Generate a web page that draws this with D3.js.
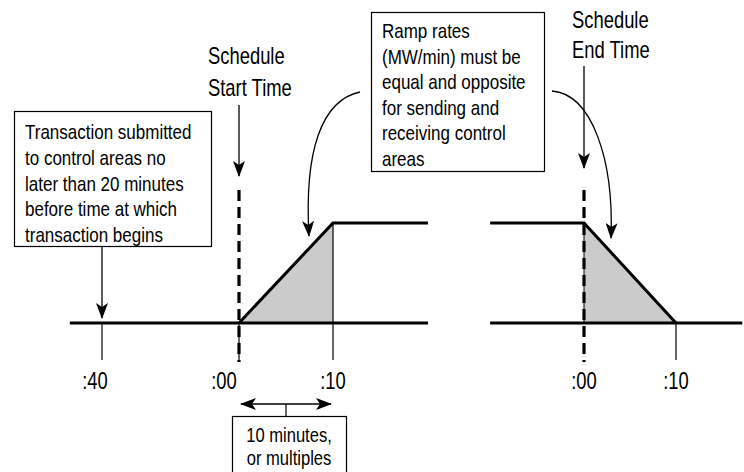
<!DOCTYPE html>
<html>
<head>
<meta charset="utf-8">
<script src="https://cdn.jsdelivr.net/npm/d3@7"></script>
<style>
  html, body { margin: 0; padding: 0; background: #fff; }
  svg { display: block; }
  text { font-family: "Liberation Sans", Arial, sans-serif; fill: #000; }
</style>
</head>
<body>
<svg id="chart" width="744" height="472"></svg>
<script>
// ---- data ----
const leftTickMinutes = [-20, 0, 10];
const leftTickLabels = [":40", ":00", ":10"];
const rightTickMinutes = [0, 10];
const rightTickLabels = [":00", ":10"];
// schedule profiles (minutes relative to schedule start/end, level 0 = low, 1 = high)
const startProfileMinutes = [0, 10, 20.1];
const startProfileLevels = [0, 1, 1];
const startBaseMinutes = [-24.7, 20.1];
const endProfileMinutes = [-10.2, 0, 10];
const endProfileLevels = [1, 1, 0];
const endBaseMinutes = [-10.2, 17.2];
const rampMinutes = 10;
const boxSubmitLines = ["Transaction submitted", "to control areas no", "later than 20 minutes", "before time at which", "transaction begins"];
const boxRampLines = ["Ramp rates", "(MW/min) must be", "equal and opposite", "for sending and", "receiving control", "areas"];
const boxIntervalLines = ["10 minutes,", "or multiples"];
const startLabelLines = ["Schedule", "Start Time"];
const endLabelLines = ["Schedule", "End Time"];

// ---- scales ----
const svg = d3.select("#chart");
const xL = d3.scaleLinear().domain([-20, 0, 10]).range([102, 239, 333]);
const xR = d3.scaleLinear().domain([0, 10]).range([584, 676]);
const y = d3.scaleLinear().domain([0, 1]).range([323, 223]);
const tickBottom = -0.37, dashTop = 1.33, dashBottom = -0.39;

// narrow text helper (condensed face emulated by horizontal scaling)
function ntext(x, yy, str, fs, anchor, sx) {
  return svg.append("text")
    .attr("transform", `translate(${x},${yy}) scale(${sx},1)`)
    .attr("text-anchor", anchor || "start")
    .attr("font-size", fs).text(str);
}

// markers
const defs = svg.append("defs");
defs.append("marker").attr("id", "arr").attr("viewBox", "0 0 16 12")
  .attr("refX", 15).attr("refY", 6).attr("markerWidth", 16).attr("markerHeight", 12)
  .attr("markerUnits", "userSpaceOnUse").attr("orient", "auto-start-reverse")
  .append("path").attr("d", "M0,0 L16,6 L0,12 L4,6 Z").attr("fill", "#000");

const line = (xs) => d3.line().x(d => xs(d[0])).y(d => y(d[1]));

// ---- shaded ramp areas ----
svg.append("path")
  .attr("d", d3.area().x(d => xL(d[0])).y0(y(0)).y1(d => y(d[1]))([[0, 0], [rampMinutes, 1]]))
  .attr("fill", "#cbcbcb").attr("stroke", "none");
svg.append("path")
  .attr("d", d3.area().x(d => xR(d[0])).y0(y(0)).y1(d => y(d[1]))([[0, 1], [rampMinutes, 0]]))
  .attr("fill", "#cbcbcb").attr("stroke", "none");

// ---- ticks ----
leftTickMinutes.forEach((m) => {
  const top = m === rampMinutes ? 1 : 0;
  svg.append("line").attr("x1", xL(m)).attr("x2", xL(m)).attr("y1", y(top)).attr("y2", y(tickBottom))
    .attr("stroke", "#000").attr("stroke-width", 1.2);
});
rightTickMinutes.forEach((m) => {
  if (m === 0) return;
  svg.append("line").attr("x1", xR(m)).attr("x2", xR(m)).attr("y1", y(0)).attr("y2", y(tickBottom))
    .attr("stroke", "#000").attr("stroke-width", 1.2);
});
svg.append("line").attr("x1", xR(0)).attr("x2", xR(0)).attr("y1", y(1)).attr("y2", y(0))
  .attr("stroke", "#000").attr("stroke-width", 1);

// ---- baselines ----
svg.append("path").attr("d", line(xL)(startBaseMinutes.map(m => [m, 0])))
  .attr("fill", "none").attr("stroke", "#000").attr("stroke-width", 3);
svg.append("path").attr("d", line(xR)(endBaseMinutes.map(m => [m, 0])))
  .attr("fill", "none").attr("stroke", "#000").attr("stroke-width", 3);

// ---- profiles ----
svg.append("path").attr("d", line(xL)(startProfileMinutes.map((m, i) => [m, startProfileLevels[i]])))
  .attr("fill", "none").attr("stroke", "#000").attr("stroke-width", 3).attr("stroke-linejoin", "miter");
svg.append("path").attr("d", line(xR)(endProfileMinutes.map((m, i) => [m, endProfileLevels[i]])))
  .attr("fill", "none").attr("stroke", "#000").attr("stroke-width", 3).attr("stroke-linejoin", "miter");

// ---- dashed schedule lines ----
[[xL, 0], [xR, 0]].forEach(([s, m]) => {
  svg.append("line").attr("x1", s(m)).attr("x2", s(m)).attr("y1", y(dashTop)).attr("y2", y(dashBottom))
    .attr("stroke", "#000").attr("stroke-width", 3.2).attr("stroke-dasharray", "11,6");
});

// ---- tick labels ----
const labelOffsets = [-7, -15, 0];
leftTickMinutes.forEach((m, i) => ntext(xL(m) + labelOffsets[i], 389, leftTickLabels[i], 23, "middle", 0.8));
rightTickMinutes.forEach((m, i) => ntext(xR(m), 389, rightTickLabels[i], 23, "middle", 0.8));

// ---- boxes ----
function box(x0, y0, x1, y1, lines, tx, ty0, dy, anchor, fs, sx) {
  svg.append("rect").attr("x", x0 + 0.5).attr("y", y0 + 0.5).attr("width", x1 - x0).attr("height", y1 - y0)
    .attr("fill", "#fff").attr("stroke", "#000").attr("stroke-width", 1.2);
  lines.forEach((t, i) => ntext(tx, ty0 + i * dy, t, fs, anchor, sx));
}
box(14, 111, 211, 246, boxSubmitLines, 25, 139, 25.8, "start", 20, 0.85);
box(371, 12, 544, 171, boxRampLines, 382, 38, 25.6, "start", 20, 0.85);
box(232, 416, 346, 480, boxIntervalLines, 289, 442, 22.5, "middle", 19.5, 0.85);

// ---- Schedule labels ----
startLabelLines.forEach((t, i) => ntext(208, 64 + i * 32, t, 23, "start", 0.8));
endLabelLines.forEach((t, i) => ntext(572, 28 + i * 30, t, 23, "start", 0.8));

// ---- arrows ----
function arrow(d, both) {
  const p = svg.append("path").attr("d", d).attr("fill", "none").attr("stroke", "#000").attr("stroke-width", 1.3)
    .attr("marker-end", "url(#arr)");
  if (both) p.attr("marker-start", "url(#arr)");
}
arrow(`M${xL(-20)},246 L${xL(-20)},${y(0) - 5}`);
arrow(`M${xL(0)},105 L${xL(0)},176`);
arrow(`M${xR(0)},66 L${xR(0)},168`);
arrow("M360,92 C322,100 304,150 309,236");
arrow("M552,91 C592,94 614,160 611,238");
const mid = (xL(0) + xL(10)) / 2;
arrow(`M${xL(0) + 2},404 L${xL(10) - 2},404`, true);
svg.append("line").attr("x1", mid).attr("x2", mid).attr("y1", 404).attr("y2", 416)
  .attr("stroke", "#000").attr("stroke-width", 1.2);
</script>
</body>
</html>
